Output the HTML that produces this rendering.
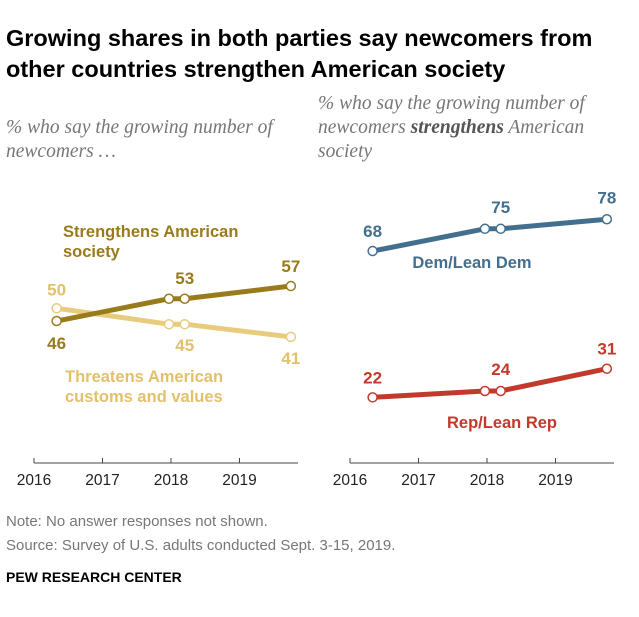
<!DOCTYPE html>
<html><head><meta charset="utf-8"><style>
body{margin:0;background:#fff;width:639px;height:612px;overflow:hidden;font-family:"Liberation Sans",sans-serif}
</style></head><body>
<svg id="c" width="639" height="612" xmlns="http://www.w3.org/2000/svg">
<text x="6" y="46" font-size="23.5" font-weight="bold" fill="#000">Growing shares in both parties say newcomers from</text>
<text x="6" y="77" font-size="23.5" font-weight="bold" fill="#000">other countries strengthen American society</text>
<g font-family="Liberation Serif,serif" font-style="italic" font-size="19.5" fill="#777">
<text x="6" y="133">% who say the growing number of</text>
<text x="6" y="157">newcomers …</text>
<text x="318" y="109">% who say the growing number of</text>
<text x="318" y="133">newcomers <tspan font-weight="bold" fill="#555">strengthens</tspan> American</text>
<text x="318" y="157">society</text>
</g>
<g id="plot"></g>
<g font-size="15" fill="#777">
<text x="6" y="526">Note: No answer responses not shown.</text>
<text x="6" y="550">Source: Survey of U.S. adults conducted Sept. 3-15, 2019.</text>
</g>
<text x="6" y="582" font-size="14" font-weight="bold" fill="#000">PEW RESEARCH CENTER</text>
</svg>
<script>
const dates=[2016.33,2017.97,2018.2,2019.75];
const strengthens=[46,53,53,57];
const threatens=[50,45,45,41];
const dem=[68,75,75,78];
const rep=[22,24,24,31];
const years=[2016,2017,2018,2019];
const NS="http://www.w3.org/2000/svg";
const g=document.getElementById('plot');
function xs(d,off){return 34+off+(d-2016)*68.5;}
function ys(v){return 467.3-3.18*v;}
function mk(t,a){const e=document.createElementNS(NS,t);for(const k in a)e.setAttribute(k,a[k]);g.appendChild(e);return e;}
[0,316].forEach((off,i)=>{
 const ax=mk('line',{x1:34+off,x2:298+off,y1:463,y2:463,stroke:'#444','stroke-width':1});
 
 
 years.forEach(yv=>{
  const x=xs(yv,off);
  const tk=mk('line',{x1:x,x2:x,y1:458,y2:463,stroke:'#444'});
  
  
  const t=mk('text',{x:x,y:485,'font-size':15.5,fill:'#222','text-anchor':'middle'});
  t.textContent=yv;
  
  
 });
});
function series(vals,off,col,name,lblOff,lblCol){
 const pts=vals.map((v,i)=>xs(dates[i],off)+','+ys(v)).join(' ');
 const l=mk('polyline',{points:pts,fill:'none',stroke:col,'stroke-width':5,'stroke-linejoin':'round'});
 
 
 vals.forEach((v,i)=>{
  const c=mk('circle',{cx:xs(dates[i],off),cy:ys(v),r:4.5,fill:'#fff',stroke:col,'stroke-width':1.5});
  
  
  if(i===1)return;
  const t=mk('text',{x:xs(dates[i],off),y:ys(v)+lblOff[i],'font-size':17,'font-weight':'bold',fill:lblCol||col,'text-anchor':'middle'});
  t.textContent=v;
  
  
 });
}
series(threatens,0,'#e8cb7c','threatens',[-13,0,27,27],'#e3c06c');
series(strengthens,0,'#9a7b1c','strengthens',[28,0,-15,-14]);
series(dem,316,'#436f8e','dem',[-14,0,-16,-16]);
series(rep,316,'#c23a2b','rep',[-14,0,-16,-14]);
function lbl(x,y,lines,col,name,anchor){lines.forEach((s,i)=>{const t=mk('text',{x:x,y:y+i*20,'font-size':16.5,'font-weight':'bold',fill:col,'text-anchor':anchor||'start'});t.textContent=s;

});}
lbl(63,237,['Strengthens American','society'],'#9a7b1c','strengthens-label');
lbl(65,382,['Threatens American','customs and values'],'#e3c06c','threatens-label');
lbl(472,268,['Dem/Lean Dem'],'#436f8e','dem-label','middle');
lbl(502,428,['Rep/Lean Rep'],'#c23a2b','rep-label','middle');
</script>
</body></html>
